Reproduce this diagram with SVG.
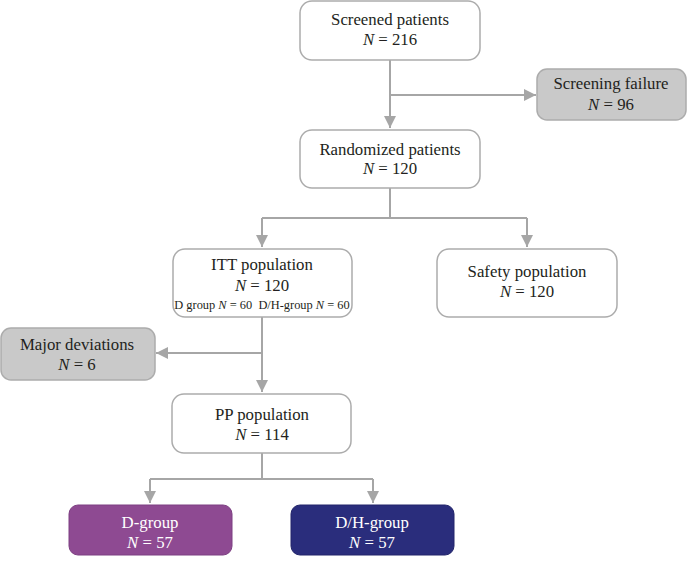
<svg xmlns="http://www.w3.org/2000/svg" width="691" height="581" viewBox="0 0 691 581">
<style>
.box{fill:#fff;stroke:#acacac;stroke-width:1.5}
.gray{fill:#c9c9c9;stroke:#acacac;stroke-width:1.5}
.t{font-family:"Liberation Serif",serif;font-size:16.8px;fill:#231f20;text-anchor:middle}
.s{font-size:12.4px}
.w{fill:#fff}
.c{fill:none;stroke:#a6a6a6;stroke-width:2}
</style>
<defs>
<marker id="ah" viewBox="0 0 10 10" refX="10" refY="5" markerWidth="6" markerHeight="6" orient="auto" markerUnits="strokeWidth">
<path d="M0,0 L10,5 L0,10 Z" fill="#a6a6a6"/>
</marker>
</defs>
<g id="connectors">
<path class="c" d="M390,60 V128" marker-end="url(#ah)"/>
<path class="c" d="M390,95 H536" marker-end="url(#ah)"/>
<path class="c" d="M390,188 V218 M262,218 H527"/>
<path class="c" d="M262,218 V247" marker-end="url(#ah)"/>
<path class="c" d="M527,218 V247" marker-end="url(#ah)"/>
<path class="c" d="M262,317 V392" marker-end="url(#ah)"/>
<path class="c" d="M262,353 H156" marker-end="url(#ah)"/>
<path class="c" d="M262,453 V479 M150,479 H373"/>
<path class="c" d="M150,479 V503" marker-end="url(#ah)"/>
<path class="c" d="M373,479 V503" marker-end="url(#ah)"/>
</g>
<g id="screened">
<rect class="box" x="300" y="1" width="180" height="59" rx="12"/>
<text class="t" x="390" y="25">Screened patients</text>
<text class="t" x="390" y="45"><tspan font-style="italic">N</tspan> = 216</text>
</g>
<g id="failure">
<rect class="gray" x="537" y="69" width="149" height="51" rx="10"/>
<text class="t" x="611" y="89">Screening failure</text>
<text class="t" x="611" y="110"><tspan font-style="italic">N</tspan> = 96</text>
</g>
<g id="randomized">
<rect class="box" x="300" y="130" width="180" height="58" rx="12"/>
<text class="t" x="390" y="155">Randomized patients</text>
<text class="t" x="390" y="174"><tspan font-style="italic">N</tspan> = 120</text>
</g>
<g id="itt">
<rect class="box" x="173" y="249" width="179" height="68" rx="12"/>
<text class="t" x="262" y="270">ITT population</text>
<text class="t" x="262" y="291"><tspan font-style="italic">N</tspan> = 120</text>
<text class="t s" x="262" y="309" xml:space="preserve">D group <tspan font-style="italic">N</tspan> = 60  D/H-group <tspan font-style="italic">N</tspan> = 60</text>
</g>
<g id="safety">
<rect class="box" x="437" y="249" width="180" height="68" rx="12"/>
<text class="t" x="527" y="277">Safety population</text>
<text class="t" x="527" y="297"><tspan font-style="italic">N</tspan> = 120</text>
</g>
<g id="deviations">
<rect class="gray" x="1" y="328" width="154" height="52" rx="10"/>
<text class="t" x="77" y="350">Major deviations</text>
<text class="t" x="77" y="370"><tspan font-style="italic">N</tspan> = 6</text>
</g>
<g id="pp">
<rect class="box" x="172" y="394" width="179" height="59" rx="12"/>
<text class="t" x="262" y="420">PP population</text>
<text class="t" x="262" y="440"><tspan font-style="italic">N</tspan> = 114</text>
</g>
<g id="dgroup">
<rect x="69" y="505" width="163" height="50" rx="9" fill="#8e4a92" stroke="#7d3f82" stroke-width="1"/>
<text class="t w" x="150" y="528">D-group</text>
<text class="t w" x="150" y="548"><tspan font-style="italic">N</tspan> = 57</text>
</g>
<g id="dhgroup">
<rect x="291" y="505" width="163" height="50" rx="9" fill="#2a2d7c" stroke="#22256a" stroke-width="1"/>
<text class="t w" x="372" y="528">D/H-group</text>
<text class="t w" x="372" y="548"><tspan font-style="italic">N</tspan> = 57</text>
</g>
</svg>
